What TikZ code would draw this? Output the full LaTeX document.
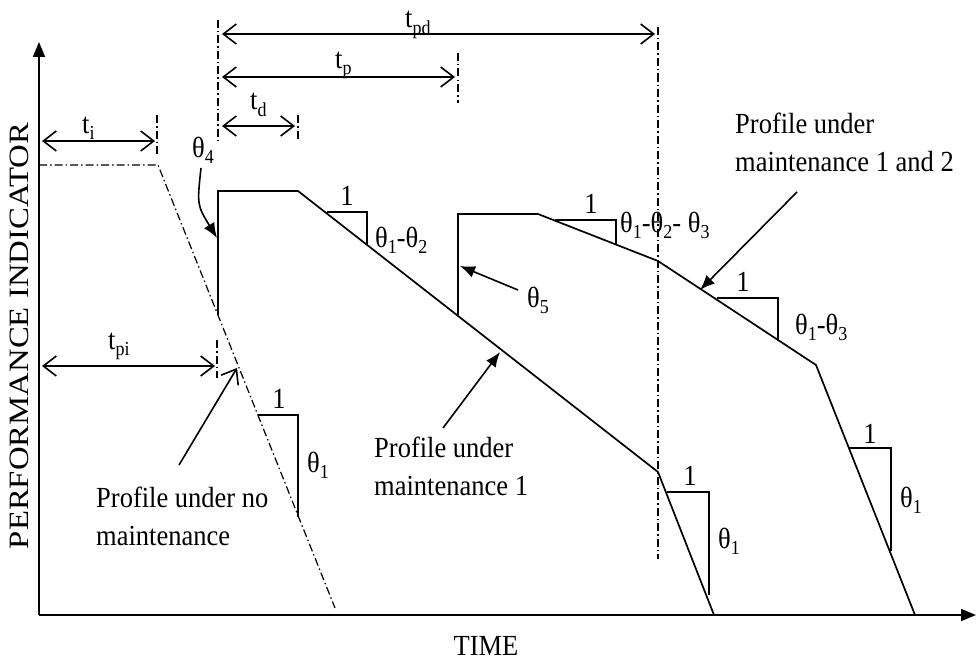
\documentclass[tikz,border=0pt]{standalone}
\usepackage{fontspec}
\setmainfont{Liberation Serif}
\usetikzlibrary{arrows.meta}
\newcommand\sbx[1]{\raisebox{-0.22em}{\fontsize{18}{18}\selectfont #1}}
\newcommand\vs[1]{\scalebox{1}[1.1]{#1}}
\begin{document}
\begin{tikzpicture}[x=1pt,y=-1pt,
  axisln/.style={line width=1.8pt,-{Triangle[length=15pt,width=12pt]}},
  prof/.style={line width=1.7pt,line join=miter},
  dd/.style={line width=1.2pt,dash pattern=on 8pt off 3pt on 1.5pt off 3pt},
  dimln/.style={line width=1.6pt,{Straight Barb[length=13pt,width=20pt,line width=1.6pt]}-{Straight Barb[length=13pt,width=20pt,line width=1.6pt]}},
  openarr/.style={line width=1.6pt,-{Straight Barb[length=13pt,width=20pt,line width=1.6pt]}},
  slopetri/.style={line width=1.6pt},
  pointer/.style={line width=1.6pt,-{Latex[length=15pt,width=12pt]}},
  lab/.style={font=\fontsize{26.5}{38}\selectfont,inner sep=0pt}]
\useasboundingbox (0,0) rectangle (977,661);
% axes
\coordinate (O) at (39,615);
\coordinate (Ytop) at (39,42);
\coordinate (Xend) at (976,615);
\draw[axisln] (O) -- (Ytop);
\draw[axisln] (O) -- (Xend);
% no maintenance profile
\coordinate (N0) at (39,165);
\coordinate (N1) at (158,165);
\coordinate (N2) at (335,608);
\draw[dd] (N0) -- (N1) -- (N2);
% profile under maintenance 1
\coordinate (A0) at (218,315);
\coordinate (A1) at (218,191);
\coordinate (A2) at (298,191);
\coordinate (A3) at (658,472);
\coordinate (A4) at (714,615);
\draw[prof] (A0) -- (A1) -- (A2) -- (A3) -- (A4);
% profile under maintenance 1 and 2
\coordinate (B0) at (458,315);
\coordinate (B1) at (458,214);
\coordinate (B2) at (538,214);
\coordinate (B3) at (658,261);
\coordinate (B4) at (816,365);
\coordinate (B5) at (915,615);
\draw[prof] (B0) -- (B1) -- (B2) -- (B3) -- (B4) -- (B5);
% vertical dash-dot guides
\coordinate (V1a) at (157,115); \coordinate (V1b) at (157,155);
\coordinate (V2a) at (218,20);  \coordinate (V2b) at (218,140);
\coordinate (V3a) at (298,115); \coordinate (V3b) at (298,140);
\coordinate (V4a) at (458,53);  \coordinate (V4b) at (458,103);
\coordinate (V5a) at (658,27);  \coordinate (V5b) at (658,559);
\coordinate (V6a) at (217,340); \coordinate (V6b) at (217,378);
\draw[dd] (V1a) -- (V1b);
\draw[dd] (V2a) -- (V2b);
\draw[dd] (V3a) -- (V3b);
\draw[dd] (V4a) -- (V4b);
\draw[dd] (V5a) -- (V5b);
\draw[dd] (V6a) -- (V6b);
% dimension arrows
\coordinate (Dpd1) at (222,34);  \coordinate (Dpd2) at (655,34);
\coordinate (Dp1) at (222,77);   \coordinate (Dp2) at (455,77);
\coordinate (Dd1) at (222,126);  \coordinate (Dd2) at (295,126);
\coordinate (Di1) at (42,141);   \coordinate (Di2) at (155,141);
\coordinate (Dpi1) at (42,366);  \coordinate (Dpi2) at (215,366);
\draw[dimln] (Dpd1) -- (Dpd2);
\draw[dimln] (Dp1) -- (Dp2);
\draw[dimln] (Dd1) -- (Dd2);
\draw[dimln] (Di1) -- (Di2);
\draw[dimln] (Dpi1) -- (Dpi2);
\node[lab,anchor=base west] (tpd) at (405,28) {\vs{t\sbx{pd}}};
\node[lab,anchor=base west] (tp) at (335,68) {\vs{t\sbx{p}}};
\node[lab,anchor=base west] (td) at (250,110) {\vs{t\sbx{d}}};
\node[lab,anchor=base west] (ti) at (82,133) {\vs{t\sbx{i}}};
\node[lab,anchor=base west] (tpi) at (108,349) {\vs{t\sbx{pi}}};
% slope triangles
\draw[slopetri] (327,212) -- (367,212) -- (367,244);
\draw[slopetri] (555,220) -- (616,220) -- (616,244);
\draw[slopetri] (717,298) -- (778,298) -- (778,340);
\draw[slopetri] (258,415) -- (298,415) -- (298,517);
\draw[slopetri] (667,492) -- (709,492) -- (709,595);
\draw[slopetri] (849,448) -- (891,448) -- (891,551);
\node[lab,anchor=base] (one1) at (347,205) {\vs{1}};
\node[lab,anchor=base] (one2) at (591,213) {\vs{1}};
\node[lab,anchor=base] (one3) at (743,291) {\vs{1}};
\node[lab,anchor=base] (one4) at (279,408) {\vs{1}};
\node[lab,anchor=base] (one5) at (690,485) {\vs{1}};
\node[lab,anchor=base] (one6) at (870,443) {\vs{1}};
\node[lab,anchor=base west] (th12) at (375,247) {\vs{θ\sbx{1}-θ\sbx{2}}};
\node[lab,anchor=base west] (th123) at (620,232) {\vs{θ\sbx{1}-θ\sbx{2}- θ\sbx{3}}};
\node[lab,anchor=base west] (th13) at (795,334) {\vs{θ\sbx{1}-θ\sbx{3}}};
\node[lab,anchor=base west] (th1a) at (307,472) {\vs{θ\sbx{1}}};
\node[lab,anchor=base west] (th1b) at (718,548) {\vs{θ\sbx{1}}};
\node[lab,anchor=base west] (th1c) at (900,507) {\vs{θ\sbx{1}}};
\node[lab,anchor=base west] (th4) at (192,157) {\vs{θ\sbx{4}}};
\node[lab,anchor=base west] (th5) at (527,307) {\vs{θ\sbx{5}}};
% pointers
\coordinate (P4s) at (201,168); \coordinate (P4e) at (217,238);
\draw[pointer] (P4s) .. controls (197,205) .. (P4e);
\coordinate (P5s) at (518,290); \coordinate (P5e) at (460,266);
\draw[pointer] (P5s) -- (P5e);
\coordinate (PM1s) at (443,428); \coordinate (PM1e) at (500,352);
\draw[pointer] (PM1s) -- (PM1e);
\coordinate (PM2s) at (797,192); \coordinate (PM2e) at (700,290);
\draw[pointer] (PM2s) -- (PM2e);
\coordinate (PNs) at (179,465); \coordinate (PNe) at (237,368);
\draw[openarr] (PNs) -- (PNe);
% texts
\node[lab,anchor=base west,align=left] (noM) at (96,545) {\vs{Profile under no}\\\vs{maintenance}};
\node[lab,anchor=base west,align=left] (m1) at (374,495) {\vs{Profile under}\\\vs{maintenance 1}};
\node[lab,anchor=base west,align=left] (m12) at (735,171) {\vs{Profile under}\\\vs{maintenance 1 and 2}};
\node[lab,anchor=base] (time) at (486,655) {\vs{TIME}};
\node[lab,rotate=90] (pi) at (19,336) {\scalebox{1.17}[1]{\fontsize{28}{30}\selectfont PERFORMANCE INDICATOR}};
\end{tikzpicture}
\end{document}
